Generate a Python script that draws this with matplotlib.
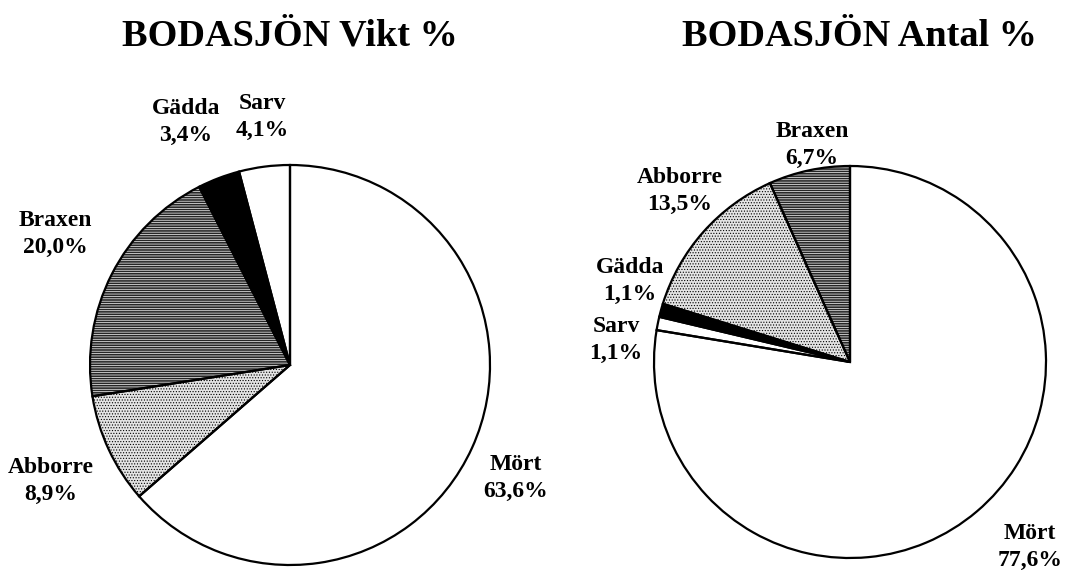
import matplotlib.pyplot as plt

# Fish catch at Bodasjön, share by weight and by number
vikt_arter = ["Mört", "Abborre", "Braxen", "Gädda", "Sarv"]
vikt_pct = [63.6, 8.9, 20.0, 3.4, 4.1]

antal_arter = ["Mört", "Sarv", "Gädda", "Abborre", "Braxen"]
antal_pct = [77.6, 1.1, 1.1, 13.5, 6.7]

fill = {"Mört": "white", "Sarv": "white", "Gädda": "black",
        "Abborre": "#e4e4e4", "Braxen": "#262626"}
hatch = {"Abborre": ("......", "black"), "Braxen": ("-------", "white")}

W, H = 1065, 581
plt.rcParams["hatch.linewidth"] = 0.5
fig = plt.figure(figsize=(W / 100, H / 100), dpi=100)
ax = fig.add_axes([0, 0, 1, 1])

font = dict(family="Liberation Serif", fontweight="bold")


def pct(v):
    return f"{v:.1f}%".replace(".", ",")


def draw_pie(arter, values, center, radius):
    kw = dict(startangle=90, counterclock=False, center=center, radius=radius)
    # fills
    ax.pie(values, colors=[fill[a] for a in arter],
           wedgeprops=dict(linewidth=0), **kw)
    # texture overlay
    wedges, _ = ax.pie(values, colors=["none"] * len(values),
                       wedgeprops=dict(linewidth=0), **kw)
    for w, a in zip(wedges, arter):
        if a in hatch:
            w.set_hatch(hatch[a][0])
            w.set_edgecolor(hatch[a][1])
    # outlines
    ax.pie(values, colors=["none"] * len(values),
           wedgeprops=dict(linewidth=1.6, edgecolor="black"), **kw)


def label(x, y, art, value):
    ax.text(x, H - y, f"{art}\n{pct(value)}", ha="center", va="center",
            fontsize=17, linespacing=1.42, **font)


draw_pie(vikt_arter, vikt_pct, (290, H - 365), 200)
draw_pie(antal_arter, antal_pct, (850, H - 362), 196)

ax.text(290, H - 46, "BODASJÖN Vikt %", ha="center", va="baseline",
        fontsize=27.5, **font)
ax.text(860, H - 46, "BODASJÖN Antal %", ha="center", va="baseline",
        fontsize=27.5, **font)

# left pie labels
vikt_pos = {"Mört": (516, 478), "Abborre": (51, 481), "Braxen": (55, 234),
            "Gädda": (186, 122), "Sarv": (262, 117)}
for a, v in zip(vikt_arter, vikt_pct):
    label(*vikt_pos[a], a, v)

# right pie labels
antal_pos = {"Mört": (1030, 547), "Sarv": (616, 340), "Gädda": (630, 281),
             "Abborre": (680, 191), "Braxen": (812, 145)}
for a, v in zip(antal_arter, antal_pct):
    label(*antal_pos[a], a, v)

# pie() resets the view, so fix the pixel frame last
ax.set_xlim(0, W)
ax.set_ylim(0, H)
ax.set_aspect("equal")
ax.axis("off")

fig.savefig("out.png", dpi=100, facecolor="white")
